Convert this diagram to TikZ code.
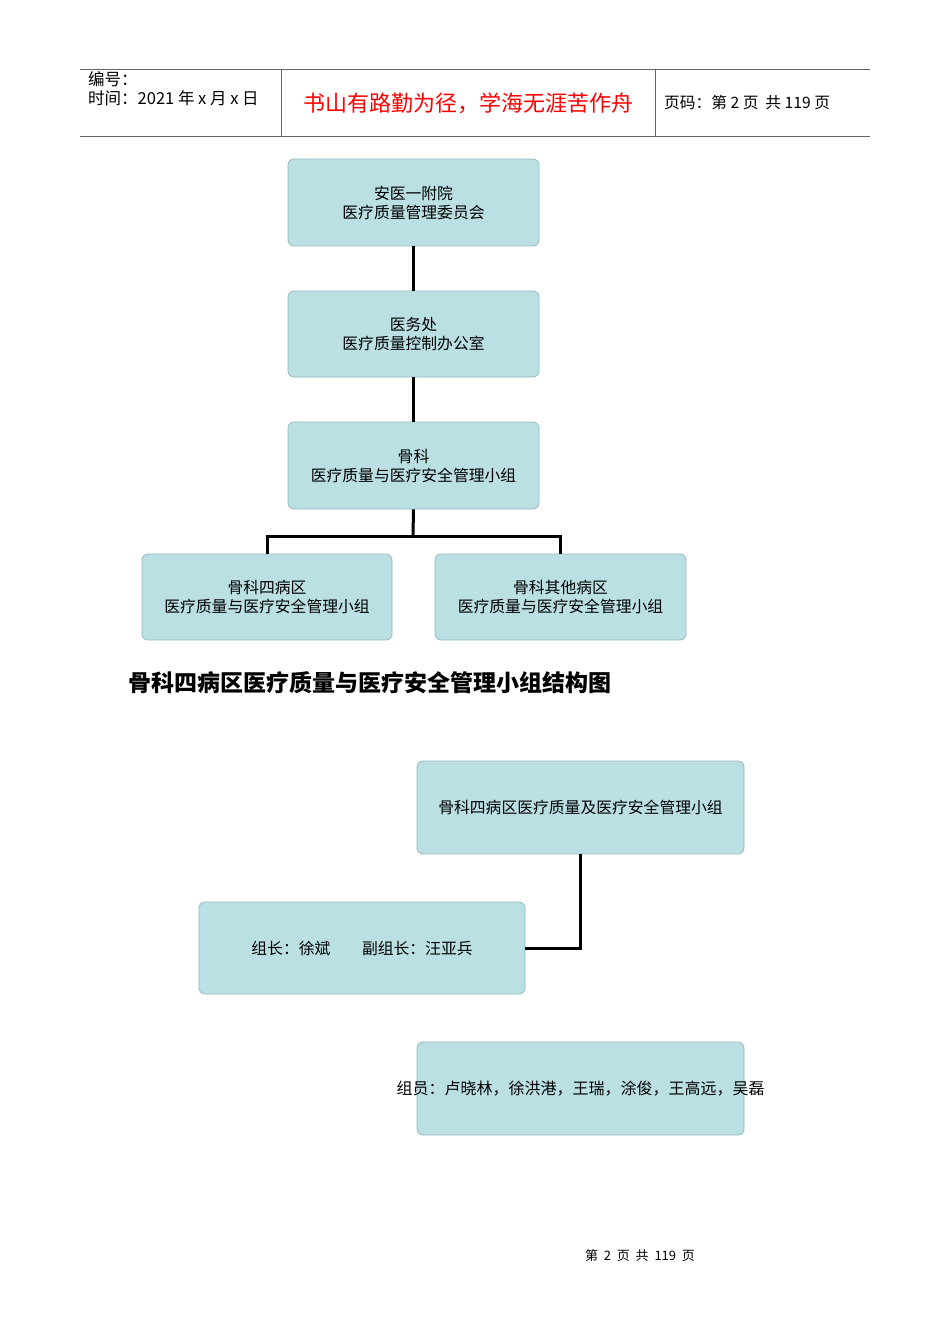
\documentclass[tikz,border=0pt]{standalone}
\usepackage{fontspec}
\setmainfont{Noto Sans CJK SC}
\begin{document}
\begin{tikzpicture}[x=1pt,y=-1pt,
 bx/.style={draw=boxline,fill=boxfill,rounded corners=6pt,line width=0.8pt,align=center,font=\fontsize{15.8}{19}\selectfont,inner sep=0pt},
 con/.style={line width=3pt,black},
 hl/.style={draw=gray!80!black,line width=1pt}]
\definecolor{boxfill}{HTML}{BBE0E3}
\definecolor{boxline}{HTML}{93B9BD}
\useasboundingbox (0,0) rectangle (950,1344);
% header
\draw[hl] (80,69) -- (870,69);
\draw[hl] (80,136) -- (870,136);
\draw[hl] (281,69) -- (281,136);
\draw[hl] (655,69) -- (655,136);
\node[anchor=west,font=\fontsize{16.5}{19}\selectfont,align=left,inner sep=0pt] (h1) at (88,89) {编号：\\时间：2021 年 x 月 x 日};
\node[font=\fontsize{22}{25}\selectfont,text=red] (h2) at (468,103) {书山有路勤为径，学海无涯苦作舟};
\node[anchor=west,font=\fontsize{15.7}{18}\selectfont,inner sep=0pt] (h3) at (664,103) {页码：第 2 页\ \ 共 119 页};
% boxes
\node[bx,minimum width=251pt,minimum height=87pt] (b1) at (413.5,202.5) {安医一附院\\医疗质量管理委员会};
\node[bx,minimum width=251pt,minimum height=86pt] (b2) at (413.5,334) {医务处\\医疗质量控制办公室};
\node[bx,minimum width=251pt,minimum height=87pt] (b3) at (413.5,465.5) {骨科\\医疗质量与医疗安全管理小组};
\node[bx,minimum width=250pt,minimum height=86pt] (b4) at (267,597) {骨科四病区\\医疗质量与医疗安全管理小组};
\node[bx,minimum width=251pt,minimum height=86pt] (b5) at (560.5,597) {骨科其他病区\\医疗质量与医疗安全管理小组};
\draw[con] (b1.south) -- (b2.north);
\draw[con] (b2.south) -- (b3.north);
\coordinate (j) at (413,536);
\draw[con] (b3.south) -- (j);
\draw[con] (b4.north) |- (j) -| (b5.north);
\node[anchor=west,font=\bfseries\fontsize{23}{26}\selectfont,inner sep=0pt] (t) at (128,683) {骨科四病区医疗质量与医疗安全管理小组结构图};
\node[bx,minimum width=327pt,minimum height=93pt] (b6) at (580.5,807.5) {骨科四病区医疗质量及医疗安全管理小组};
\node[bx,minimum width=326pt,minimum height=92pt] (b7) at (362,948) {组长：徐斌\qquad 副组长：汪亚兵};
\node[bx,minimum width=327pt,minimum height=93pt] (b8) at (580.5,1088.5) {};
\node[font=\fontsize{16}{19}\selectfont] (b8t) at (580.5,1089) {组员：卢晓林，徐洪港，王瑞，涂俊，王高远，吴磊};
\draw[con] (b6.south) |- (b7.east);
\node[font=\fontsize{13}{15}\selectfont] (f) at (640,1256) {第\ \ 2\ \ 页\ \ 共\ \ 119\ \ 页};
\end{tikzpicture}
\end{document}
